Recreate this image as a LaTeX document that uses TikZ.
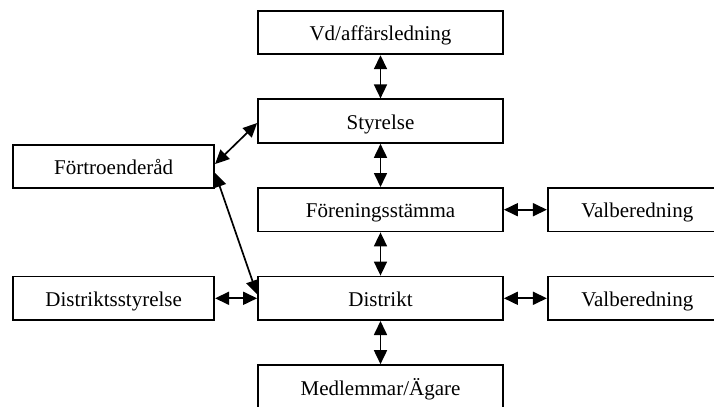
\documentclass[tikz,border=0pt]{standalone}
\usepackage{fontspec}
\setmainfont{Liberation Serif}
\usetikzlibrary{arrows.meta, positioning}

\begin{document}
\begin{tikzpicture}[
    node distance=21.6pt,
    block/.style={
        draw,
        rectangle,
        line width=0.9pt,
        minimum width=122.5pt,
        minimum height=21.8pt,
        inner sep=0pt,
        text height=2ex,
        text depth=0.2ex,
        font=\fontsize{10.5}{12}\selectfont
    },
    sideblock/.style={block, minimum width=100.5pt},
    valblock/.style={block, minimum width=89.5pt},
    arrow/.style={{Triangle[length=7pt,width=6.5pt]}-{Triangle[length=7pt,width=6.5pt]}, line width=0.85pt}
]

% ===== Frame (picture is cut at right and bottom) =====
\useasboundingbox (0,0) rectangle (357pt,-203.5pt);
\clip (0,0) rectangle (357pt,-203.5pt);

% ===== Main column =====
\node[block] (vd) at (190.25pt,-16.25pt) {Vd/affärsledning};

\node[block, below=of vd] (styrelse) {Styrelse};

\node[block, below=of styrelse] (stamma) {Föreningsstämma};

\node[block, below=of stamma] (distrikt) {Distrikt};

\node[block, below=of distrikt] (medlemmar) {Medlemmar/Ägare};

% ===== Left side =====
\node[sideblock, below left=0pt and 21pt of styrelse] (fortroende) {Förtroenderåd};

\node[sideblock, left=21pt of distrikt] (diststyrelse) {Distriktsstyrelse};

% ===== Right side =====
\node[valblock, right=21.5pt of stamma] (valb1) {Valberedning};

\node[valblock, right=21.5pt of distrikt] (valb2) {Valberedning};

% ===== Arrows =====
\draw[arrow] (vd) -- (styrelse);
\draw[arrow] (styrelse) -- (stamma);
\draw[arrow] (stamma) -- (distrikt);
\draw[arrow] (distrikt) -- (medlemmar);

\draw[arrow] (stamma) -- (valb1);
\draw[arrow] (distrikt) -- (valb2);
\draw[arrow] (diststyrelse) -- (distrikt);

\draw[arrow] ([yshift=-1pt]styrelse.west) -- ([yshift=1.25pt]fortroende.east);
\draw[arrow] ([yshift=-3.25pt]fortroende.east) -- ([yshift=2pt]distrikt.west);

\end{tikzpicture}
\end{document}
